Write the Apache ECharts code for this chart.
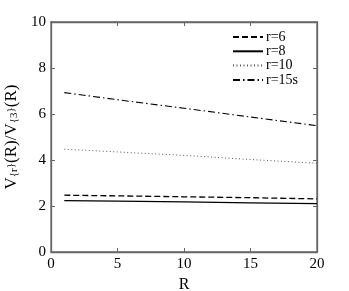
<!DOCTYPE html>
<html><head><meta charset="utf-8">
<script src="https://cdn.jsdelivr.net/npm/echarts@6/dist/echarts.min.js"></script>
<style>html,body{margin:0;padding:0;background:#fff}#c{width:349px;height:291px}</style>
</head><body><div id="c"></div>
<script>
const R = [1, 5, 10, 15, 20];
const r6 = [2.47, 2.44, 2.40, 2.36, 2.31];
const r8 = [2.23, 2.21, 2.18, 2.14, 2.10];
const r10 = [4.47, 4.35, 4.20, 4.02, 3.86];
const r15s = [6.93, 6.62, 6.25, 5.87, 5.49];
const names = ['r=6', 'r=8', 'r=10', 'r=15s'];
const xTicks = [0, 5, 10, 15, 20];
const yTicks = [0, 2, 4, 6, 8, 10];

const font = 'Liberation Serif';
const axisColor = '#666';
const pair = (xs, ys) => xs.map((x, i) => [x, ys[i]]);
const styles = [
  {type: [6, 3], width: 1.3, color: '#000'},
  {type: 'solid', width: 1.3, color: '#000'},
  {type: [1, 2.5], width: 1, color: '#555'},
  {type: [7, 3, 1.5, 3], width: 1.1, color: '#000'}
];
const datas = [r6, r8, r10, r15s];

const chart = echarts.init(document.getElementById('c'), null, {renderer: 'canvas'});
const baseAxis = {
  axisLine: {show: true, onZero: false, lineStyle: {color: axisColor, width: 1.3}},
  axisTick: {show: true, inside: true, length: 4, lineStyle: {color: axisColor}},
  splitLine: {show: false}
};
chart.setOption({
  animation: false,
  textStyle: {fontFamily: font},
  grid: {left: 51, right: 32, top: 22, bottom: 39, containLabel: false, outerBoundsMode: 'none',
    show: true, borderColor: axisColor, borderWidth: 1.3, backgroundColor: 'transparent'},
  legend: {
    orient: 'vertical', left: 227, top: 25,
    itemWidth: 30, itemHeight: 12, itemGap: 0.3,
    data: names,
    itemStyle: {opacity: 0},
    textStyle: {fontFamily: font, fontSize: 14, lineHeight: 12, color: '#000', padding: [0, 0, 0, -2]}
  },
  xAxis: [
    Object.assign({}, baseAxis, {
      type: 'value', min: 0, max: 20, interval: 5, position: 'bottom',
      name: 'R', nameLocation: 'middle', nameGap: 23,
      nameTextStyle: {fontFamily: font, fontSize: 16, color: '#000'},
      axisLabel: {fontFamily: font, fontSize: 15, color: '#000', margin: 5,
        formatter: v => xTicks.includes(v) ? String(v) : ''}
    }),
    Object.assign({}, baseAxis, {
      type: 'value', min: 0, max: 20, interval: 5, position: 'top',
      axisLabel: {show: false}
    })
  ],
  yAxis: [
    Object.assign({}, baseAxis, {
      type: 'value', min: 0, max: 10, interval: 2, position: 'left',
      name: '{n|V}{s|{r}}{n|(R)/V}{s|{3}}{n|(R)}',
      nameLocation: 'middle', nameGap: 30, nameRotate: 90,
      nameTextStyle: {fontFamily: font, fontSize: 11, color: '#000', verticalAlign: 'bottom',
        rich: {
          n: {fontFamily: font, fontSize: 17, color: '#000', verticalAlign: 'bottom'},
          s: {fontFamily: font, fontSize: 11, color: '#000', verticalAlign: 'bottom'}
        }},
      axisLabel: {fontFamily: font, fontSize: 15, color: '#000', margin: 5,
        formatter: v => yTicks.includes(v) ? String(v) : ''}
    }),
    Object.assign({}, baseAxis, {
      type: 'value', min: 0, max: 10, interval: 2, position: 'right',
      axisLabel: {show: false}
    })
  ],
  series: names.map((n, i) => ({
    name: n, type: 'line', xAxisIndex: 0, yAxisIndex: 0,
    data: pair(R, datas[i]), symbol: 'none', showSymbol: false,
    lineStyle: styles[i], itemStyle: {color: styles[i].color}
  }))
});
</script></body></html>
